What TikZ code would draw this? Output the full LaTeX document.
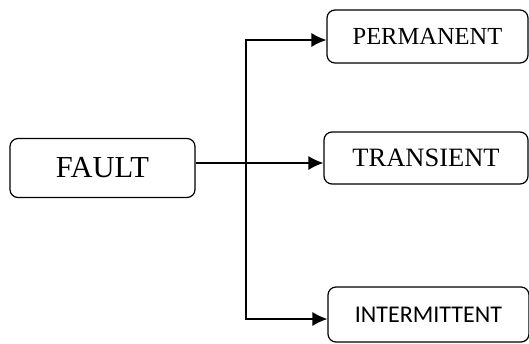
\documentclass[tikz,border=0pt]{standalone}
\usepackage{fontspec}
\setmainfont{Liberation Serif}
\newfontfamily\calfont{Carlito}
\usepackage{tikz}
\usetikzlibrary{arrows.meta,positioning}
\tikzstyle{box} = [draw=black, line width=1.2pt, rounded corners=8pt, fill=white, text=black, text centered, inner sep=0pt]
\tikzset{tedge/.style={draw, line width=1.3pt, -{Latex[length=15pt,width=14pt]}}}

\begin{document}
\begin{tikzpicture}[x=1pt,y=-1pt]
\useasboundingbox (0,0) rectangle (529,343);

% boxes =============================

% root
\node[box, minimum width=185pt, minimum height=59pt, font=\fontsize{30.5}{32}\selectfont] (fault) at (102.5,168) {FAULT};

% kinds of fault
\node[box, minimum width=201pt, minimum height=53pt, font=\fontsize{24.5}{26}\selectfont] (perm) at (427.5,36.5) {PERMANENT};
\node[box, minimum width=204pt, minimum height=52pt, font=\fontsize{26.5}{28}\selectfont] (trans) at (426,158) {TRANSIENT};
\node[box, minimum width=201pt, minimum height=55pt, font=\calfont\fontsize{24}{26}\selectfont] (inter) at (428.5,314.5) {INTERMITTENT};

% branch point
\coordinate (split) at (246,163);

%edges
\path[tedge] ([yshift=5pt]fault.east) -- ([yshift=-5pt]trans.west);
\path[tedge] (split) |- ([yshift=-3.5pt]perm.west);
\path[tedge] (split) |- ([yshift=-4.5pt]inter.west);

\end{tikzpicture}
\end{document}
